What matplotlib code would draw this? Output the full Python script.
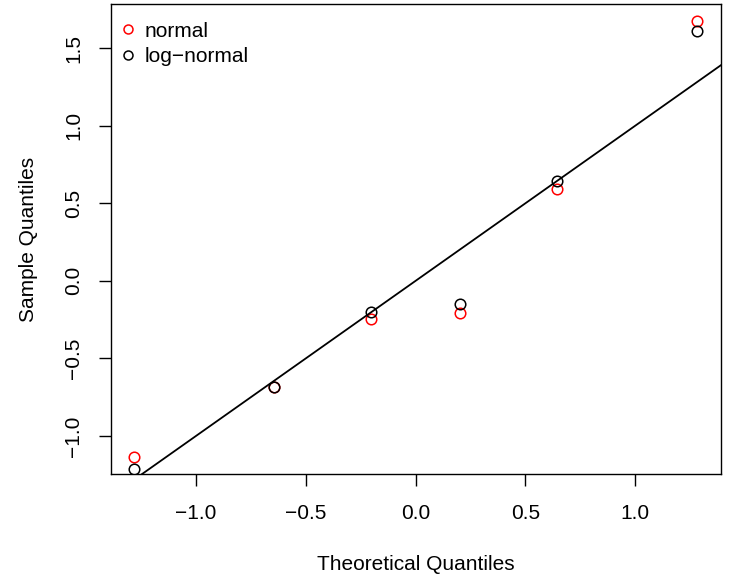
import matplotlib
matplotlib.use("Agg")
import matplotlib.pyplot as plt

plt.rcParams['font.family'] = ['Liberation Sans', 'DejaVu Sans']

# theoretical normal quantiles for n = 6
theo = [-1.2816, -0.6433, -0.2019, 0.2019, 0.6433, 1.2816]
normal = [-1.137, -0.686, -0.246, -0.205, 0.590, 1.676]
lognormal = [-1.213, -0.686, -0.203, -0.151, 0.643, 1.611]

xticks = [-1.0, -0.5, 0.0, 0.5, 1.0]
yticks = [-1.0, -0.5, 0.0, 0.5, 1.0, 1.5]

fig = plt.figure(figsize=(7.32, 5.77), dpi=100)
ax = fig.add_axes([110.7 / 732, 1 - 474 / 577, 610.3 / 732, 470 / 577])

ax.plot(theo, normal, 'o', mfc='none', mec='#FF0000', ms=7.6, mew=1.1,
        label='normal')
ax.plot(theo, lognormal, 'o', mfc='none', mec='black', ms=7.6, mew=1.1,
        label='log\u2212normal')
ax.axline((0, 0), slope=1, color='black', lw=1.3)

ax.set_xlim(-1.388, 1.39)
ax.set_ylim(-1.245, 1.784)
ax.set_xticks(xticks)
ax.set_xticklabels(['\u22121.0', '\u22120.5', '0.0', '0.5', '1.0'])
ax.set_yticks(yticks)
ax.set_yticklabels(['\u22121.0', '\u22120.5', '0.0', '0.5', '1.0', '1.5'],
                   rotation=90, va='center')
ax.tick_params(direction='out', length=8.6, width=1, labelsize=15, pad=13)
ax.tick_params(axis='y', pad=11)
for s in ax.spines.values():
    s.set_linewidth(1)

ax.set_xlabel('Theoretical Quantiles', fontsize=15, labelpad=23)
ax.set_ylabel('Sample Quantiles', fontsize=15, labelpad=19)

ax.legend(loc='upper left', frameon=False, fontsize=15, handlelength=0.6,
          handletextpad=0.5, borderaxespad=0.0, labelspacing=0.32,
          markerscale=0.85, bbox_to_anchor=(0.004, 0.98))

fig.savefig('out.png', dpi=100)
